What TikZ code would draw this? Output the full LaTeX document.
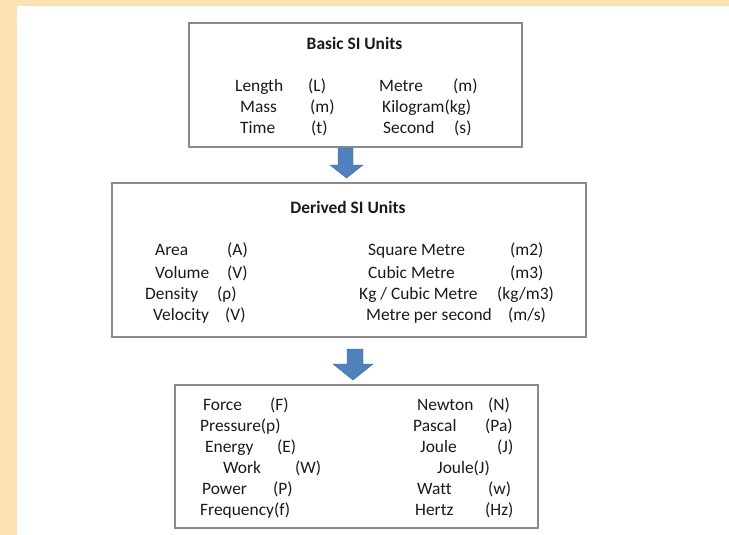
\documentclass[tikz,border=0pt]{standalone}
\usepackage{fontspec}
\setmainfont{Carlito}[Ligatures=NoCommon]
\definecolor{beige}{HTML}{FBE3B4}
\definecolor{framegray}{HTML}{8A8A8A}
\definecolor{arrowblue}{HTML}{4F81BD}
\definecolor{ink}{HTML}{1A1A1A}
\begin{document}
\begin{tikzpicture}[x=1pt,y=-1pt,
  txt/.style={anchor=base west, inner sep=0pt, text=ink, font=\fontsize{17.4}{20}\selectfont},
  ttl/.style={anchor=base, inner sep=0pt, text=ink, font=\fontsize{17.4}{20}\selectfont\bfseries},
  box/.style={draw=framegray, line width=2pt, fill=white, inner sep=0pt},
  blockarrow/.style={fill=arrowblue, draw=arrowblue!80!black, line width=0.4pt}]
\fill[white] (0,0) rectangle (729,535);
\fill[beige] (0,0) rectangle (729,6);
\fill[beige] (0,0) rectangle (17,535);
\useasboundingbox (0,0) rectangle (729,535);

% boxes
\node[box, minimum width=333pt, minimum height=124pt] (basic) at (355.5,85) {};
\node[box, minimum width=474pt, minimum height=154pt] (derived) at (349,260) {};
\node[box, minimum width=363pt, minimum height=143pt] (other) at (356.5,456.5) {};

% block arrows
\fill[blockarrow] (338,148) -- (353,148) -- (353,165) -- (363,165) -- (346.5,178) -- (330,165) -- (338,165) -- cycle;
\fill[blockarrow] (347,349) -- (363,349) -- (363,364) -- (373,364) -- (353,380) -- (333,364) -- (347,364) -- cycle;

% box 1
\node[ttl] (b1t) at (354.5,50) {Basic SI Units};
\node[txt] (b1a) at (235,92) {Length};
\node[txt] (b1b) at (308,92) {(L)};
\node[txt] (b1c) at (379,92) {Metre};
\node[txt] (b1d) at (453,92) {(m)};
\node[txt] (b1e) at (240,113) {Mass};
\node[txt] (b1f) at (310,113) {(m)};
\node[txt] (b1g) at (382,113) {Kilogram(kg)};
\node[txt] (b1h) at (240,133) {Time};
\node[txt] (b1i) at (311,133) {(t)};
\node[txt] (b1j) at (383,133) {Second};
\node[txt] (b1k) at (454,133) {(s)};

% box 2
\node[ttl] (b2t) at (348,213) {Derived SI Units};
\node[txt] (b2a) at (155,255) {Area};
\node[txt] (b2b) at (227,255) {(A)};
\node[txt] (b2c) at (368,255) {Square Metre};
\node[txt] (b2d) at (510,255) {(m2)};
\node[txt] (b2e) at (155,278) {Volume};
\node[txt] (b2f) at (227,278) {(V)};
\node[txt] (b2g) at (368,278) {Cubic Metre};
\node[txt] (b2h) at (510,278) {(m3)};
\node[txt] (b2i) at (145,299) {Density};
\node[txt] (b2j) at (217,299) {(ρ)};
\node[txt] (b2k) at (359,299) {Kg / Cubic Metre};
\node[txt] (b2l) at (497,299) {(kg/m3)};
\node[txt] (b2m) at (153,320) {Velocity};
\node[txt] (b2n) at (225,320) {(V)};
\node[txt] (b2o) at (366,320) {Metre per second};
\node[txt] (b2p) at (508,320) {(m/s)};

% box 3
\node[txt] (b3a) at (203,410) {Force};
\node[txt] (b3b) at (270,410) {(F)};
\node[txt] (b3c) at (417,410) {Newton};
\node[txt] (b3d) at (488,410) {(N)};
\node[txt] (b3e) at (200,431) {Pressure(p)};
\node[txt] (b3f) at (413,431) {Pascal};
\node[txt] (b3g) at (485,431) {(Pa)};
\node[txt] (b3h) at (205,452) {Energy};
\node[txt] (b3i) at (277,452) {(E)};
\node[txt] (b3j) at (420,452) {Joule};
\node[txt] (b3k) at (497,452) {(J)};
\node[txt] (b3l) at (223,473) {Work};
\node[txt] (b3m) at (295,473) {(W)};
\node[txt] (b3n) at (437,473) {Joule(J)};
\node[txt] (b3o) at (202,494) {Power};
\node[txt] (b3p) at (273,494) {(P)};
\node[txt] (b3q) at (417,494) {Watt};
\node[txt] (b3r) at (488,494) {(w)};
\node[txt] (b3s) at (200,515) {Frequency(f)};
\node[txt] (b3t) at (415,515) {Hertz};
\node[txt] (b3u) at (485,515) {(Hz)};
\end{tikzpicture}
\end{document}
